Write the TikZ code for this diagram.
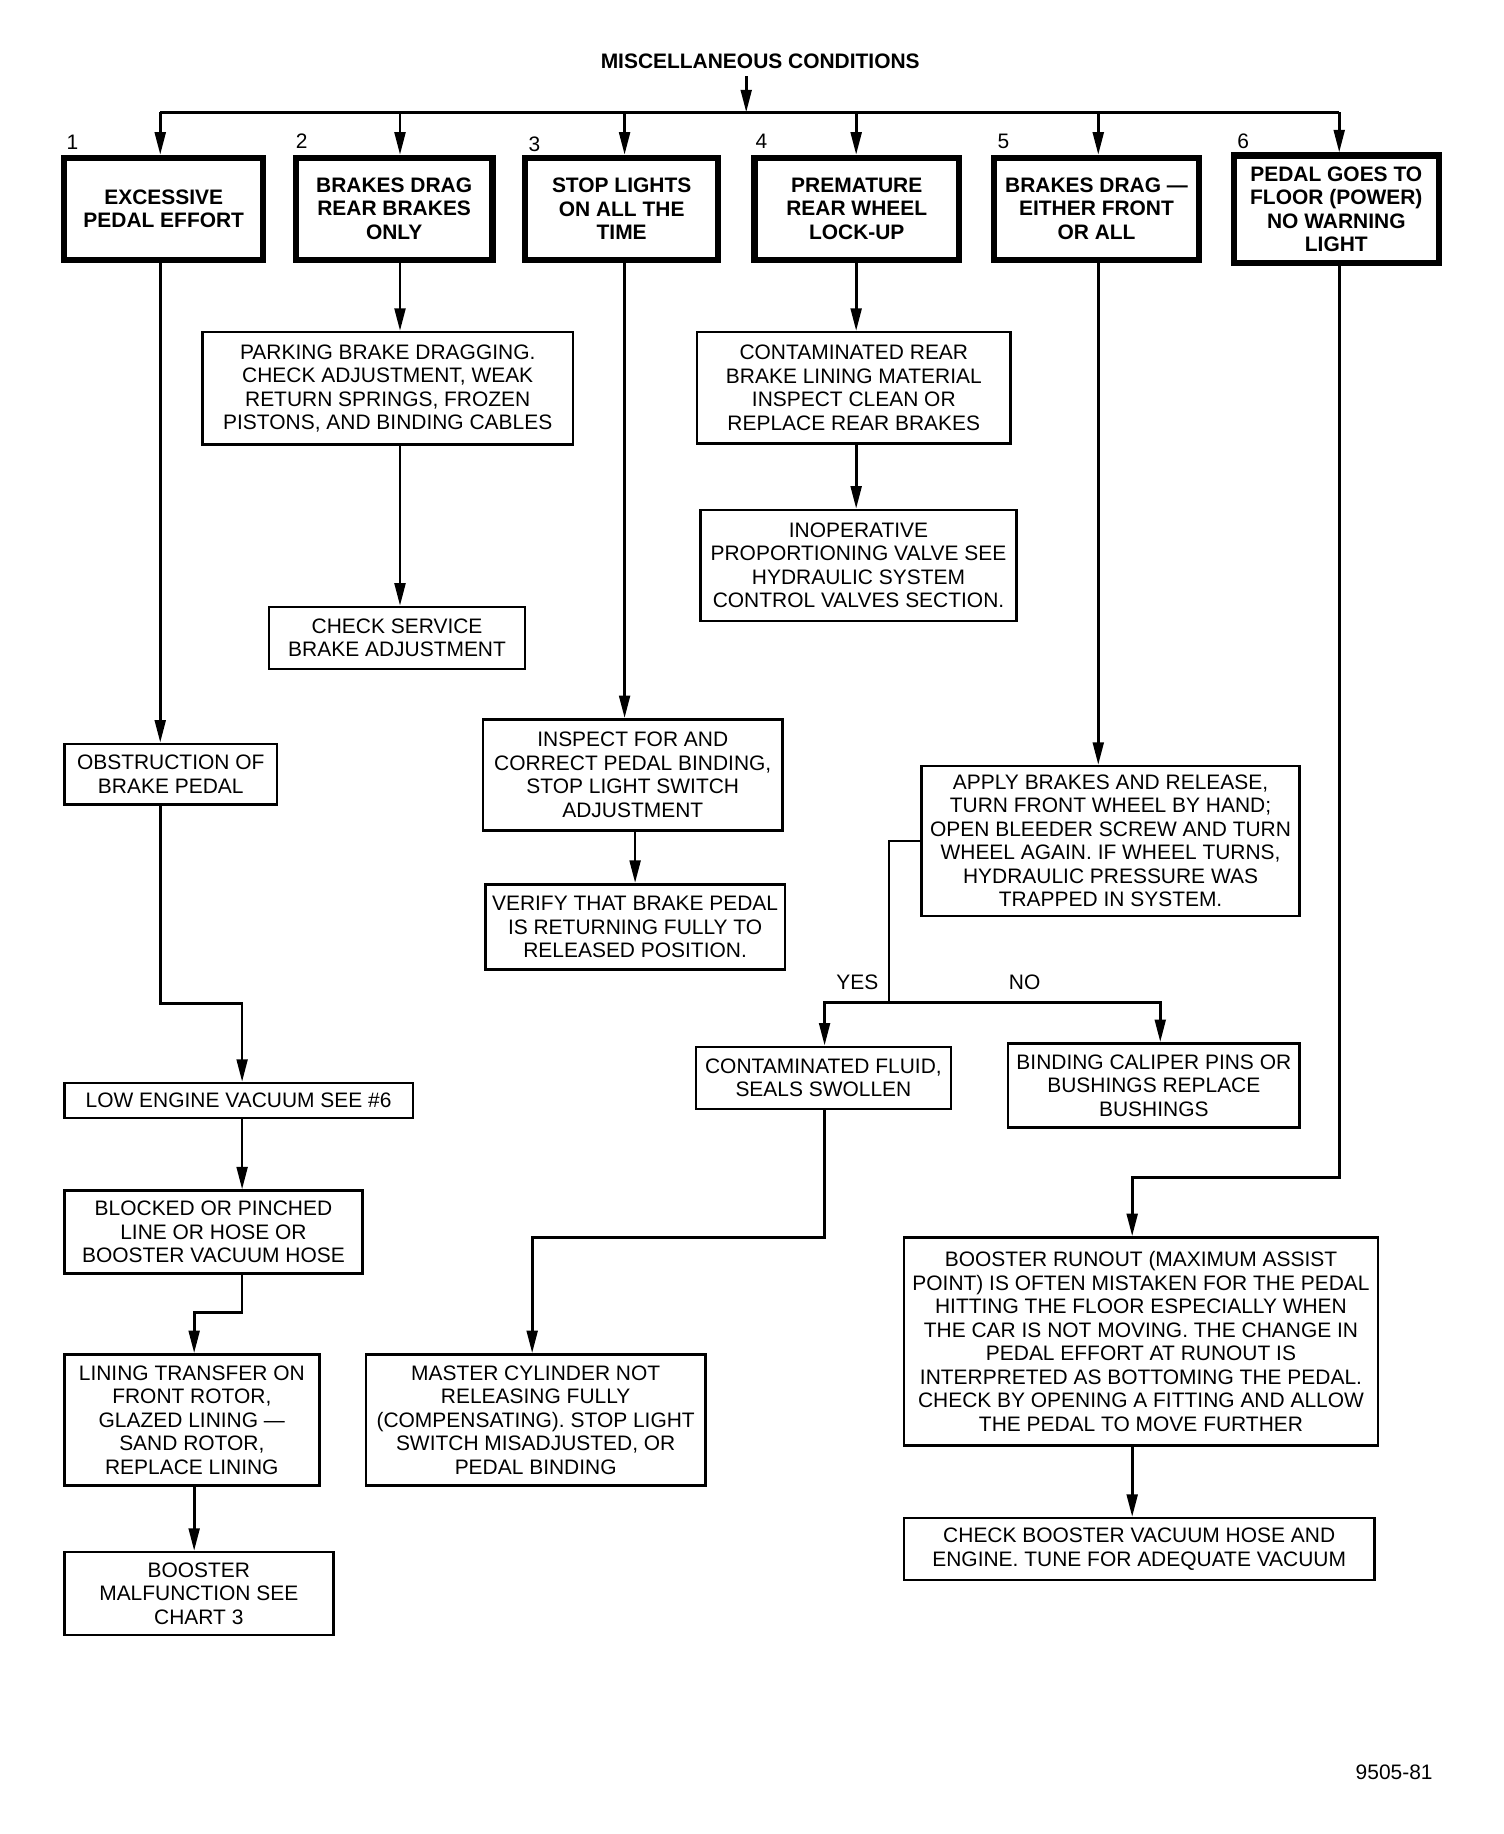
\documentclass[tikz,border=0pt]{standalone}
\usepackage{fontspec}
\setmainfont{Liberation Sans}
\usetikzlibrary{arrows.meta}
\def\unitpx{0.5973}
\newcommand\mkbox[7]{\node[#1, minimum width={(#4-#3)*\unitpx pt}, minimum height={(#6-#5)*\unitpx pt}] (#2) at ({(#3+#4)/2},{(#5+#6)/2}) {#7};}
\begin{document}
\begin{tikzpicture}[x=\unitpx pt,y=-\unitpx pt,
  box/.style={draw, line width=1.3pt, inner sep=0pt, align=center, font=\fontsize{10.7}{12}\selectfont},
  tbox/.style={box, line width=3.2pt, font=\fontsize{10.7}{12}\selectfont\bfseries},
  lbl/.style={inner sep=0pt, font=\fontsize{10.7}{12}\selectfont},
  link/.style={line width=1.4pt},
  arr/.style={link, -{Triangle[length=11.5pt,width=5.5pt]}}]
\fill[white] (0pt,0pt) rectangle (768pt,-936.6pt);
\useasboundingbox (0pt,0pt) rectangle (768pt,-936.6pt);

\node[lbl, font=\fontsize{10.7}{12}\selectfont\bfseries] (title) at (650,52) {MISCELLANEOUS CONDITIONS};

% top row
\mkbox{tbox}{b1}{55}{225}{135}{222}{EXCESSIVE\\PEDAL EFFORT}
\mkbox{tbox}{b2}{253}{421}{135}{222}{BRAKES DRAG\\REAR BRAKES\\ONLY}
\mkbox{tbox}{b3}{449}{614}{135}{222}{STOP LIGHTS\\ON ALL THE\\TIME}
\mkbox{tbox}{b4}{645}{820}{135}{222}{PREMATURE\\REAR WHEEL\\LOCK-UP}
\mkbox{tbox}{b5}{850}{1025}{135}{222}{BRAKES DRAG ---\\EITHER FRONT\\OR ALL}
\mkbox{tbox}{b6}{1055}{1230}{133}{225}{PEDAL GOES TO\\FLOOR (POWER)\\NO WARNING\\LIGHT}

\node[lbl] (n1) at (62,122) {1};
\node[lbl] (n2) at (258,121) {2};
\node[lbl] (n3) at (457,123) {3};
\node[lbl] (n4) at (651,121) {4};
\node[lbl] (n5) at (858,121) {5};
\node[lbl] (n6) at (1063,121) {6};

% other boxes
\mkbox{box}{park}{173}{490}{284}{380}{PARKING BRAKE DRAGGING.\\CHECK ADJUSTMENT, WEAK\\RETURN SPRINGS, FROZEN\\PISTONS, AND BINDING CABLES}
\mkbox{box}{chk}{230}{449}{519}{572}{CHECK SERVICE\\BRAKE ADJUSTMENT}
\mkbox{box}{contr}{596}{864}{284}{379}{CONTAMINATED REAR\\BRAKE LINING MATERIAL\\INSPECT CLEAN OR\\REPLACE REAR BRAKES}
\mkbox{box}{inop}{599}{869}{436}{531}{INOPERATIVE\\PROPORTIONING VALVE SEE\\HYDRAULIC SYSTEM\\CONTROL VALVES SECTION.}
\mkbox{box}{insp}{413}{669}{615}{710}{INSPECT FOR AND\\CORRECT PEDAL BINDING,\\STOP LIGHT SWITCH\\ADJUSTMENT}
\mkbox{box}{ver}{415}{671}{756}{829}{VERIFY THAT BRAKE PEDAL\\IS RETURNING FULLY TO\\RELEASED POSITION.}
\mkbox{box}{obs}{55}{237}{636}{688}{OBSTRUCTION OF\\BRAKE PEDAL}
\mkbox{box}{low}{55}{353}{926}{956}{LOW ENGINE VACUUM SEE \#6}
\mkbox{box}{blk}{55}{310}{1018}{1089}{BLOCKED OR PINCHED\\LINE OR HOSE OR\\BOOSTER VACUUM HOSE}
\mkbox{box}{lin}{55}{273}{1158}{1270}{LINING TRANSFER ON\\FRONT ROTOR,\\GLAZED LINING ---\\SAND ROTOR,\\REPLACE LINING}
\mkbox{box}{bmal}{55}{285}{1327}{1398}{BOOSTER\\MALFUNCTION SEE\\CHART 3}
\mkbox{box}{apply}{788}{1111}{655}{783}{APPLY BRAKES AND RELEASE,\\TURN FRONT WHEEL BY HAND;\\OPEN BLEEDER SCREW AND TURN\\WHEEL AGAIN. IF WHEEL TURNS,\\HYDRAULIC PRESSURE WAS\\TRAPPED IN SYSTEM.}
\mkbox{box}{cfl}{595}{813}{895}{948}{CONTAMINATED FLUID,\\SEALS SWOLLEN}
\mkbox{box}{bind}{862}{1111}{892}{964}{BINDING CALIPER PINS OR\\BUSHINGS REPLACE\\BUSHINGS}
\mkbox{box}{mst}{313}{603}{1158}{1270}{MASTER CYLINDER NOT\\RELEASING FULLY\\(COMPENSATING). STOP LIGHT\\SWITCH MISADJUSTED, OR\\PEDAL BINDING}
\mkbox{box}{brun}{773}{1178}{1058}{1236}{BOOSTER RUNOUT (MAXIMUM ASSIST\\POINT) IS OFTEN MISTAKEN FOR THE PEDAL\\HITTING THE FLOOR ESPECIALLY WHEN\\THE CAR IS NOT MOVING. THE CHANGE IN\\PEDAL EFFORT AT RUNOUT IS\\INTERPRETED AS BOTTOMING THE PEDAL.\\CHECK BY OPENING A FITTING AND ALLOW\\THE PEDAL TO MOVE FURTHER}
\mkbox{box}{chkb}{773}{1175}{1298}{1351}{CHECK BOOSTER VACUUM HOSE AND\\ENGINE. TUNE FOR ADEQUATE VACUUM}

\node[lbl] (yes) at (733,840) {YES};
\node[lbl] (no) at (876,840) {NO};
\node[lbl] (code) at (1192,1515) {9505-81};

% coordinates
\coordinate (k0) at (638,96);
\coordinate (k1) at (137,96);
\coordinate (k2) at (342,96);
\coordinate (k3) at (534,96);
\coordinate (k4) at (732,96);
\coordinate (k5) at (939,96);
\coordinate (k6) at (1145,96);
\coordinate (e1) at (207,858);
\coordinate (e2) at (166,1122);
\coordinate (e3) at (455,1058);
\coordinate (e6) at (968,1007);
\coordinate (s) at (760,857);
\coordinate (yl) at (705,857);
\coordinate (nr) at (992,857);

% connectors
\draw[arr, shorten <=4pt] (title.south -| k0) -- (k0);
\draw[link] (k1) -- (k6);
\foreach \i in {1,...,6} {\draw[arr] (k\i) -- (k\i |- b\i.north);}

\draw[arr] (b1.south -| k1) -- (k1 |- obs.north);
\draw[arr] (b2.south -| k2) -- (k2 |- park.north);
\draw[arr] (park.south -| k2) -- (k2 |- chk.north);
\draw[arr] (b3.south -| k3) -- (k3 |- insp.north);
\draw[arr] (insp.south -| ver.north) -- (ver.north);
\draw[arr] (b4.south -| k4) -- (k4 |- contr.north);
\draw[arr] (contr.south -| k4) -- (k4 |- inop.north);
\draw[arr] (b5.south -| k5) -- (k5 |- apply.north);
\draw[arr] (b6.south -| k6) |- (e6) -- (e6 |- brun.north);
\draw[arr] (brun.south -| e6) -- (e6 |- chkb.north);

\draw[arr] (obs.south -| k1) |- (e1) -- (e1 |- low.north);
\draw[arr] (low.south -| e1) -- (e1 |- blk.north);
\draw[arr] (blk.south -| e1) |- (e2) -- (e2 |- lin.north);
\draw[arr] (lin.south -| e2) -- (e2 |- bmal.north);

\draw[link] (apply.west) -| (s);
\draw[arr] (s) -- (yl) -- (yl |- cfl.north);
\draw[arr] (s) -- (nr) -- (nr |- bind.north);
\draw[arr] (cfl.south -| yl) |- (e3) -- (e3 |- mst.north);
\end{tikzpicture}
\end{document}
